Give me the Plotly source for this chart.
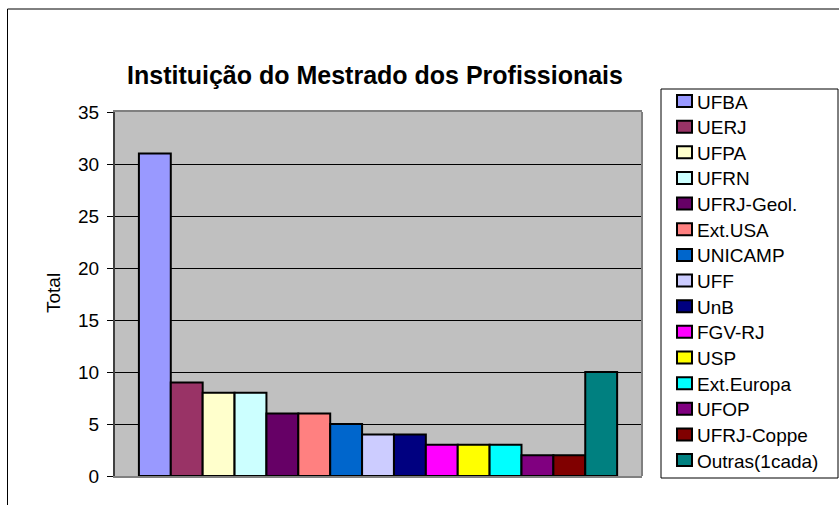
import plotly.graph_objects as go

categories = ["UFBA", "UERJ", "UFPA", "UFRN", "UFRJ-Geol.", "Ext.USA", "UNICAMP", "UFF",
              "UnB", "FGV-RJ", "USP", "Ext.Europa", "UFOP", "UFRJ-Coppe", "Outras(1cada)"]
values = [31, 9, 8, 8, 6, 6, 5, 4, 4, 3, 3, 3, 2, 2, 10]
colors = ["#9999FF", "#993366", "#FFFFCC", "#CCFFFF", "#660066", "#FF8080", "#0066CC", "#CCCCFF",
          "#000080", "#FF00FF", "#FFFF00", "#00FFFF", "#800080", "#800000", "#008080"]
y_ticks = [0, 5, 10, 15, 20, 25, 30, 35]

FONT = "Arial, Liberation Sans, sans-serif"
W, H = 839, 505
PL, PR, PT, PB = 115, 642, 112, 476  # plot area in pixels


def X(px):
    return (px - PL) / (PR - PL)


def Y(py):
    return (PB - py) / (PB - PT)


fig = go.Figure()
for i, (cat, val, col) in enumerate(zip(categories, values, colors)):
    fig.add_trace(go.Bar(
        x=[i], y=[val], name=cat, width=1,
        marker=dict(color=col, line=dict(color="black", width=2)),
        showlegend=False,
    ))

shapes = [
    # outer chart border (top & left visible)
    dict(type="line", xref="paper", yref="paper", x0=X(7.5), x1=X(900), y0=Y(9), y1=Y(9),
         line=dict(color="black", width=1)),
    dict(type="line", xref="paper", yref="paper", x0=X(7.5), x1=X(7.5), y0=Y(9), y1=Y(600),
         line=dict(color="black", width=1)),
    # right border of plot area (gray)
    dict(type="line", xref="paper", yref="paper", x0=1, x1=1, y0=0, y1=1,
         line=dict(color="#808080", width=2)),
    # legend box
    dict(type="rect", xref="paper", yref="paper", x0=X(661), x1=X(838), y0=Y(478), y1=Y(89),
         line=dict(color="black", width=1), fillcolor="white"),
]
annotations = [
    dict(text="Total", textangle=-90, x=X(53), y=Y(293), xref="paper", yref="paper",
         showarrow=False, xanchor="center", yanchor="middle",
         font=dict(family=FONT, size=19, color="black")),
]

row0, step = 101, 25.65
for i, (cat, col) in enumerate(zip(categories, colors)):
    cy = row0 + i * step
    shapes.append(dict(type="rect", xref="paper", yref="paper",
                       x0=X(677), x1=X(692), y0=Y(cy + 6), y1=Y(cy - 6),
                       line=dict(color="black", width=2), fillcolor=col))
    annotations.append(dict(text=cat, x=X(695), y=Y(cy + 1), xref="paper", yref="paper",
                            xanchor="left", yanchor="middle", showarrow=False,
                            font=dict(family=FONT, size=19, color="black")))

fig.update_layout(
    width=W, height=H,
    margin=dict(l=PL, r=W - PR, t=PT, b=H - PB, pad=0),
    paper_bgcolor="white", plot_bgcolor="#C0C0C0",
    barmode="overlay",
    font=dict(family=FONT, size=19, color="black"),
    title=dict(text="<b>Instituição do Mestrado dos Profissionais</b>",
               font=dict(family=FONT, size=25, color="black"),
               x=375 / W, xanchor="center", y=1 - 75 / H, yanchor="middle",
               xref="container", yref="container"),
    showlegend=False,
    xaxis=dict(range=[-1.25, 15.28], showticklabels=False, showgrid=False,
               zeroline=False, showline=True, linecolor="#808080", linewidth=2,
               mirror=True, ticks=""),
    yaxis=dict(range=[0, 35], tickvals=y_ticks, showgrid=True, gridcolor="black",
               gridwidth=1, zeroline=False, showline=True, linecolor="#404040",
               linewidth=2, mirror=False, ticks="outside", ticklen=6, tickcolor="black",
               tickwidth=1, ticklabelstandoff=4,
               tickfont=dict(family=FONT, size=19, color="black")),
    annotations=annotations,
    shapes=shapes,
)

fig.write_html("out.html", config={"displayModeBar": False},
               post_script="document.body.style.margin='0';")
